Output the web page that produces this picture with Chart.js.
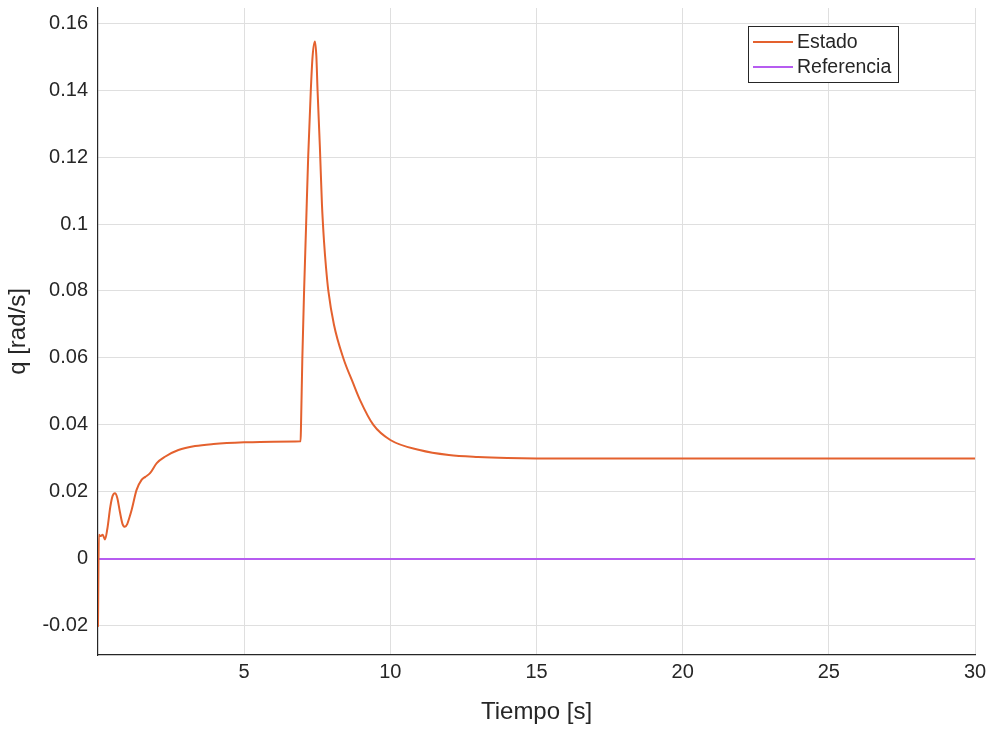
<!DOCTYPE html>
<html>
<head>
<meta charset="utf-8">
<script src="https://cdn.jsdelivr.net/npm/chart.js@4.4.1/dist/chart.umd.min.js"></script>
<style>
  html, body { margin: 0; padding: 0; background: #fff; }
  #wrap { width: 992px; height: 731px; }
</style>
</head>
<body>
<div id="wrap"><canvas id="grafico"></canvas></div>
<script>
// datos
const tiempo = [0, 0.03, 0.08, 0.16, 0.24, 0.32, 0.42, 0.5, 0.58, 0.66, 0.75, 0.84, 0.92, 1.0, 1.08, 1.15, 1.32, 1.49, 1.62, 1.78, 2.01, 2.29, 2.75, 3.32, 3.95, 5.0, 6.0, 6.93, 6.945, 6.99, 7.05, 7.12, 7.19, 7.28, 7.34, 7.42, 7.47, 7.51, 7.59, 7.66, 7.73, 7.8, 7.88, 8.07, 8.39, 8.73, 8.96, 9.42, 10.0, 11.0, 12.0, 13.0, 14.0, 15.0, 20.0, 25.0, 30.0];
const estado = [-0.0203, 0.0072, 0.0068, 0.0072, 0.0058, 0.0090, 0.0155, 0.0188, 0.0196, 0.0182, 0.0140, 0.0104, 0.0096, 0.0104, 0.0125, 0.0146, 0.0206, 0.0236, 0.0245, 0.0256, 0.0286, 0.0305, 0.0325, 0.0337, 0.0343, 0.0348, 0.0350, 0.0351, 0.0400, 0.0600, 0.0800, 0.1000, 0.1200, 0.1400, 0.1500, 0.1545, 0.1500, 0.1400, 0.1230, 0.1060, 0.0950, 0.0870, 0.0800, 0.0700, 0.0600, 0.0524, 0.0475, 0.0400, 0.0355, 0.0325, 0.0310, 0.0304, 0.0301, 0.0300, 0.0300, 0.0300, 0.0300];
const tiempoRef = [0, 30];
const referencia = [0, 0];
const ticksX = [5, 10, 15, 20, 25, 30];
const ticksY = [-0.02, 0, 0.02, 0.04, 0.06, 0.08, 0.1, 0.12, 0.14, 0.16];

const colorEstado = '#E4612E';
const colorRef = '#B65CF0';
const texto = '#262626';
const fuente = '"Liberation Sans", Arial, Helvetica, sans-serif';

Chart.defaults.font.family = fuente;
Chart.defaults.color = texto;

// leyenda tipo MATLAB dentro del area
const leyenda = {
    id: 'leyenda',
    afterDatasetsDraw(chart) {
        const ctx = chart.ctx;
        const x0 = 748, y0 = 26, w = 150, h = 56;
        ctx.save();
        ctx.fillStyle = '#fff';
        ctx.fillRect(x0, y0, w, h);
        ctx.strokeStyle = texto;
        ctx.lineWidth = 1;
        ctx.strokeRect(x0 + 0.5, y0 + 0.5, w, h);
        ctx.font = '19.5px ' + fuente;
        ctx.textBaseline = 'middle';
        chart.data.datasets.forEach((ds, i) => {
            const yy = y0 + 16 + i * 25;
            ctx.strokeStyle = ds.borderColor;
            ctx.lineWidth = 2;
            ctx.beginPath();
            ctx.moveTo(x0 + 5, yy);
            ctx.lineTo(x0 + 45, yy);
            ctx.stroke();
            ctx.fillStyle = texto;
            ctx.fillText(ds.label, x0 + 49, yy + 1);
        });
        ctx.restore();
    }
};

new Chart(document.getElementById('grafico'), {
    type: 'line',
    data: {
        datasets: [
            {
                label: 'Estado',
                data: tiempo.map((t, i) => ({x: t, y: estado[i]})),
                borderColor: colorEstado,
                borderWidth: 2,
                pointRadius: 0,
                cubicInterpolationMode: 'monotone',
            },
            {
                label: 'Referencia',
                data: tiempoRef.map((t, i) => ({x: t, y: referencia[i]})),
                borderColor: colorRef,
                borderWidth: 2,
                pointRadius: 0,
            }
        ]
    },
    options: {
        responsive: true,
        maintainAspectRatio: false,
        animation: false,
        layout: { padding: { top: 8, right: 17, left: 0, bottom: 0 } },
        plugins: { legend: { display: false }, tooltip: { enabled: false } },
        scales: {
            x: {
                type: 'linear',
                min: 0,
                max: 30,
                afterBuildTicks: s => { s.ticks = ticksX.map(v => ({value: v})); },
                afterFit: s => { s.height = 76; },
                ticks: { font: { size: 20 }, color: texto, padding: 5, maxRotation: 0 },
                grid: { color: '#dfdfdf', drawTicks: false },
                border: { color: texto, width: 1.2 },
                title: { display: true, text: 'Tiempo [s]', font: { size: 24 }, color: texto, padding: { top: 2 } }
            },
            y: {
                type: 'linear',
                min: -0.0287,
                max: 0.1645,
                afterBuildTicks: s => { s.ticks = ticksY.map(v => ({value: v})); },
                afterFit: s => { s.width = 98; s.paddingTop = 0; s.paddingBottom = 0; },
                ticks: {
                    font: { size: 20 }, color: texto, padding: 10,
                    callback: v => String(Number(v.toFixed(2)))
                },
                grid: { color: '#dfdfdf', drawTicks: false },
                border: { color: texto, width: 1.2 },
                title: { display: true, text: 'q [rad/s]', font: { size: 24 }, color: texto, padding: { bottom: 4 } }
            }
        }
    },
    plugins: [leyenda]
});
</script>
</body>
</html>
